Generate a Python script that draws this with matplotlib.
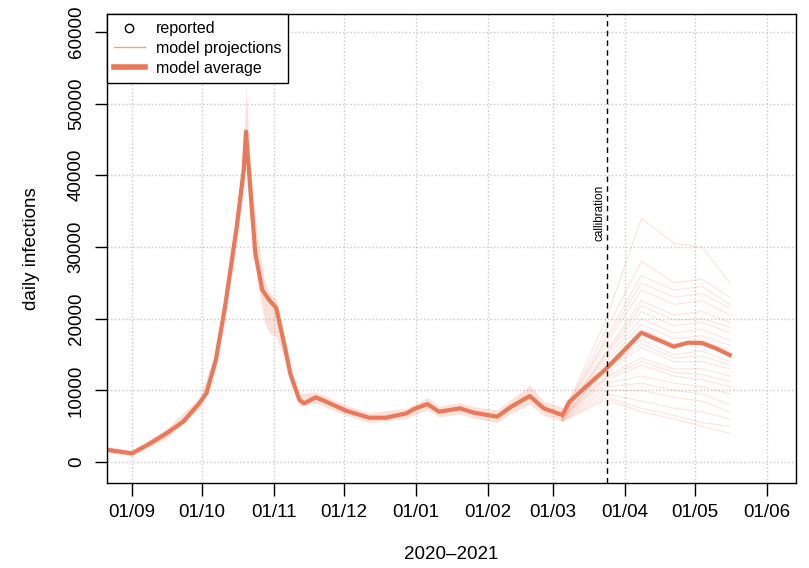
import matplotlib
matplotlib.use("Agg")
import matplotlib.pyplot as plt
import matplotlib.dates as mdates
from matplotlib.lines import Line2D
import pandas as pd

plt.rcParams["font.family"] = ["Liberation Sans", "DejaVu Sans"]

COL = "#E9795A"

# model average
avg_dates = ["2020-08-22", "2020-09-01", "2020-09-09", "2020-09-16", "2020-09-23",
             "2020-09-30", "2020-10-03", "2020-10-07", "2020-10-11", "2020-10-16",
             "2020-10-19", "2020-10-20", "2020-10-22", "2020-10-24", "2020-10-27",
             "2020-10-30", "2020-11-02", "2020-11-06", "2020-11-08", "2020-11-09",
             "2020-11-12", "2020-11-14", "2020-11-19", "2020-11-25", "2020-12-02",
             "2020-12-12", "2020-12-19", "2020-12-28", "2020-12-31", "2021-01-06",
             "2021-01-11", "2021-01-20", "2021-01-26", "2021-02-05", "2021-02-11",
             "2021-02-19", "2021-02-25", "2021-03-05", "2021-03-08", "2021-03-24",
             "2021-04-08", "2021-04-22", "2021-04-28", "2021-05-04", "2021-05-10",
             "2021-05-16"]
avg_values = [1670, 1210, 2640, 4040, 5630,
              8230, 9600, 14200, 21700, 32800,
              40700, 46100, 37500, 29100, 24000,
              22600, 21500, 15600, 12400, 11400,
              8650, 8190, 9030, 8190, 7160,
              6180, 6180, 6790, 7350, 8090,
              7020, 7490, 6880, 6320, 7720,
              9210, 7490, 6560, 8410, 13070,
              18040, 16090, 16650, 16600, 15860,
              14930]

# spread of the projections before calibration
env_dates = ["2020-08-22", "2020-09-01", "2020-09-16", "2020-09-30", "2020-10-07",
             "2020-10-11", "2020-10-16", "2020-10-19", "2020-10-20", "2020-10-22",
             "2020-10-25", "2020-10-28", "2020-10-30", "2020-11-02", "2020-11-06",
             "2020-11-09", "2020-11-12", "2020-11-19", "2020-12-02", "2020-12-12",
             "2020-12-28", "2021-01-06", "2021-01-11", "2021-01-20", "2021-01-26",
             "2021-02-05", "2021-02-11", "2021-02-19", "2021-02-25", "2021-03-05"]
env_low = [1300, 800, 3400, 7400, 13000,
           20000, 30500, 38000, 42500, 33500,
           25000, 19500, 18000, 17500, 14000,
           10400, 7800, 8200, 6500, 5500,
           6100, 7300, 6300, 6700, 6100,
           5500, 6800, 8100, 6500, 5700]
env_high = [2100, 1600, 4700, 9000, 15400,
            23200, 35000, 44000, 52500, 40500,
            31500, 25200, 23700, 22700, 16900,
            12400, 9500, 9800, 7900, 6900,
            7500, 9000, 7800, 8300, 7700,
            7300, 8700, 10700, 8500, 7600]

# individual projections after the start of March
proj_dates = ["2021-03-05", "2021-03-24", "2021-04-08", "2021-04-22", "2021-05-04", "2021-05-16"]
proj_lines = [
    [6400, 20000, 34000, 30500, 30000, 25000],
    [6600, 18500, 28000, 25000, 25500, 23000],
    [6500, 17500, 26000, 24000, 24500, 22000],
    [6700, 17000, 25000, 23000, 23500, 21500],
    [6300, 16500, 24000, 22000, 22500, 20500],
    [6400, 15500, 22500, 20500, 21000, 19500],
    [6500, 15200, 21800, 19800, 20000, 18800],
    [6200, 15000, 21000, 19000, 19500, 18000],
    [6300, 14500, 20000, 18000, 18500, 17000],
    [6400, 14000, 19200, 17200, 17600, 16300],
    [6100, 13500, 18500, 16500, 17000, 15500],
    [6200, 13000, 17000, 15000, 15500, 14000],
    [6300, 12800, 16500, 14500, 14800, 13500],
    [6000, 12500, 16000, 14000, 14000, 13000],
    [6100, 12000, 14500, 13000, 13000, 12000],
    [6200, 11800, 14000, 12500, 12200, 11200],
    [5900, 11500, 13500, 12000, 11500, 10500],
    [6000, 11000, 12000, 11000, 10500, 9500],
    [5800, 10500, 11000, 10000, 9500, 8000],
    [5900, 10000, 10000, 9000, 8500, 7000],
    [5700, 9500, 8500, 7500, 7000, 6000],
    [5800, 9000, 7500, 6500, 5500, 5000],
    [5600, 8700, 7000, 6000, 5000, 4000],
]

calib_date = "2021-03-24"
month_ticks = pd.date_range("2020-09-01", "2021-06-01", freq="MS")
y_ticks = [0, 10000, 20000, 30000, 40000, 50000, 60000]

fig = plt.figure(figsize=(8.09, 5.68), dpi=100)
ax = fig.add_axes([0.1323, 0.1496, 0.8517, 0.8257])

ax.set_xticks(month_ticks)
ax.set_yticks(y_ticks)
ax.grid(True, color="#c8c8c8", linestyle=":", linewidth=1)
ax.set_axisbelow(True)

ax.fill_between(pd.to_datetime(env_dates), env_low, env_high,
                color=COL, alpha=0.22, linewidth=0)
for vals in proj_lines:
    ax.plot(pd.to_datetime(proj_dates), vals, color=COL, lw=0.8, alpha=0.2)
ax.plot(pd.to_datetime(avg_dates), avg_values, color=COL, lw=3, solid_joinstyle="round")

cd = pd.Timestamp(calib_date)
ax.axvline(cd, color="black", ls=(0, (4, 3)), lw=1)
ax.annotate("callibration", xy=(cd, 34700), xytext=(-1, 0), textcoords="offset points",
            rotation=90, ha="right", va="center", fontsize=8.5)

ax.set_xlim(pd.Timestamp("2020-08-21 06:00"), pd.Timestamp("2021-06-13 12:00"))
ax.set_ylim(-2930, 62500)
ax.xaxis.set_major_formatter(mdates.DateFormatter("%d/%m"))

ax.tick_params(axis="both", direction="out", length=9, width=1, labelsize=13.5, color="black")
ax.tick_params(axis="x", pad=6)
ax.tick_params(axis="y", pad=7, labelrotation=90)
for lab in ax.get_yticklabels():
    lab.set_va("center")
for sp in ax.spines.values():
    sp.set_linewidth(1)
    sp.set_color("black")

ax.set_xlabel("2020\u20132021", fontsize=13.5, labelpad=18)
ax.set_ylabel("daily infections", fontsize=13.5, labelpad=20)

handles = [
    Line2D([], [], marker="o", mfc="none", mec="black", ls="none", markersize=6),
    Line2D([], [], color=COL, lw=1, alpha=0.7),
    Line2D([], [], color=COL, lw=4),
]
leg = ax.legend(handles, ["reported", "model projections", "model average"],
                loc="upper left", borderaxespad=0, fancybox=False, framealpha=1,
                edgecolor="black", fontsize=11.5, handlelength=1.9, labelspacing=0.3,
                borderpad=0.45, handletextpad=0.7)
leg.get_frame().set_linewidth(1)

fig.savefig("out.png", dpi=100)
